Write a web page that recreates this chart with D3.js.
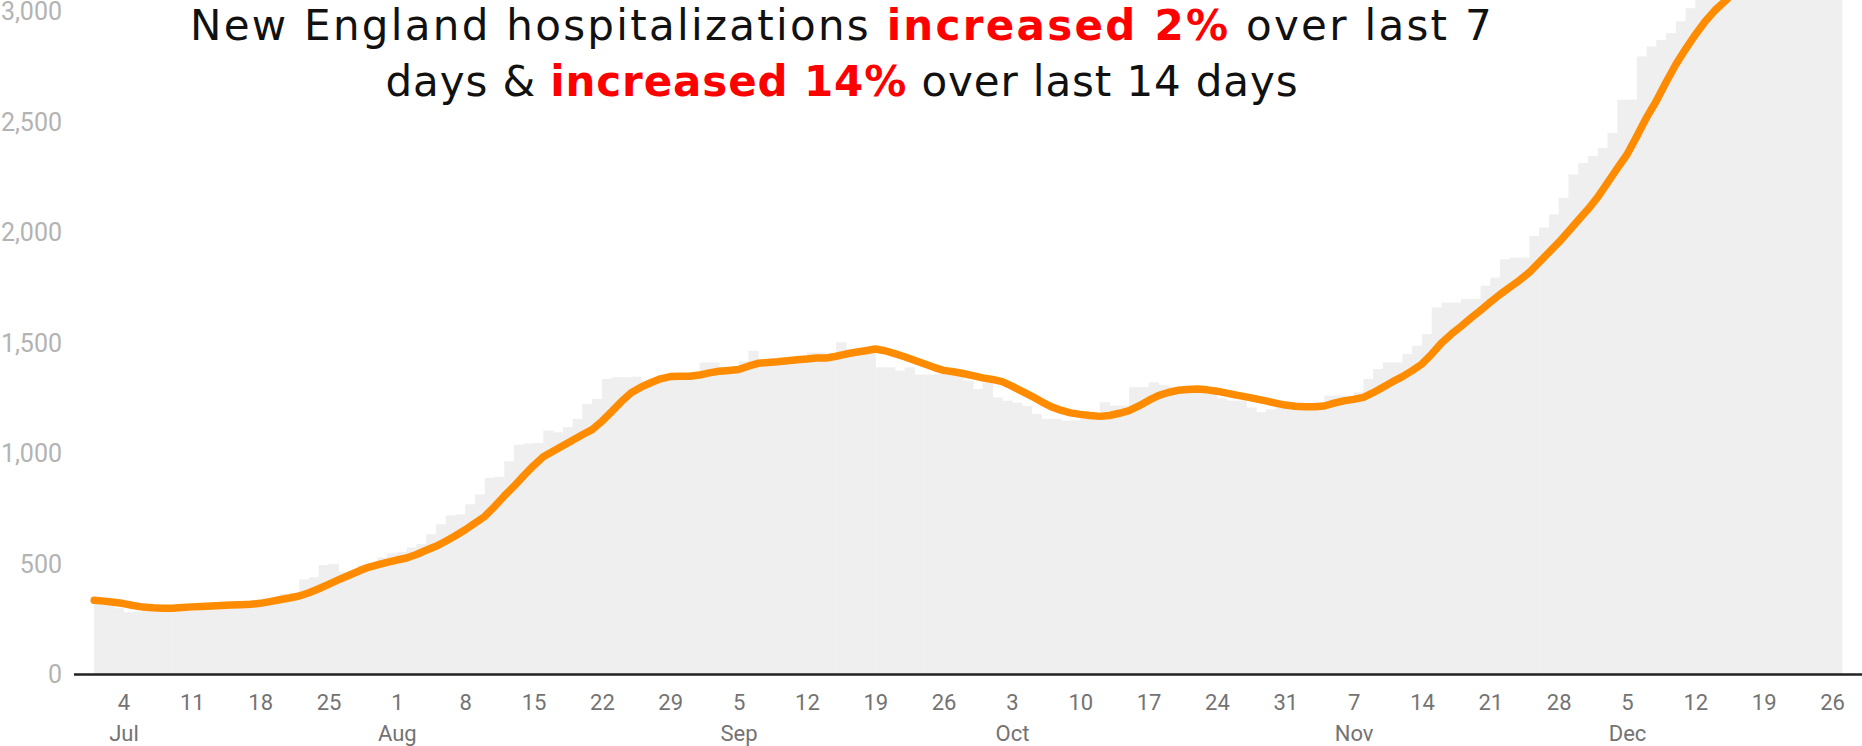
<!DOCTYPE html>
<html>
<head>
<meta charset="utf-8">
<script src="https://cdn.jsdelivr.net/npm/d3@7"></script>
<style>
  body { margin: 0; background: #fff; }
  svg { display: block; }
</style>
</head>
<body>
<svg id="chart" width="1862" height="746"></svg>
<script>
// daily data starts Jul 1 2020, one value per day up to Dec 26
var startDate = new Date(2020, 6, 1);

// total hospitalized (grey bars)
var hospitalized = [
  335, 330, 300, 282, 285, 300, 305, 305, 300, 310,
  312, 315, 318, 312, 315, 320, 322, 330, 335, 365,
  370, 430, 440, 495, 500, 465, 470, 495, 505, 530,
  548, 555, 575, 590, 635, 680, 720, 725, 770, 815,
  890, 895, 965, 1040, 1045, 1048, 1104, 1096, 1119, 1157,
  1224, 1247, 1337, 1345, 1345, 1348, 1330, 1320, 1330, 1345,
  1350, 1340, 1412, 1412, 1390, 1390, 1417, 1465, 1420, 1420,
  1410, 1420, 1440, 1457, 1457, 1440, 1503, 1470, 1460, 1470,
  1390, 1390, 1375, 1390, 1357, 1357, 1360, 1360, 1355, 1330,
  1292, 1320, 1254, 1239, 1230, 1215, 1179, 1157, 1157, 1149,
  1150, 1160, 1165, 1232, 1217, 1217, 1300, 1300, 1322, 1310,
  1300, 1290, 1290, 1280, 1270, 1250, 1239, 1239, 1209, 1187,
  1200, 1210, 1215, 1215, 1215, 1230, 1262, 1262, 1262, 1277,
  1337, 1382, 1412, 1412, 1450, 1488, 1540, 1661, 1683, 1683,
  1699, 1699, 1759, 1796, 1879, 1886, 1886, 1984, 2022, 2082,
  2157, 2263, 2315, 2346, 2383, 2451, 2601, 2601, 2797, 2842,
  2872, 2902, 2955, 3015, 3060, 3090, 3130, 3170, 3220, 3260,
  3310, 3350, 3390, 3420, 3460, 3490, 3510, 3540, 3560
];

// 7 day average (orange line)
var avg7 = [
  336, 332, 327, 321, 312, 305, 302, 300, 300, 303,
  306, 308, 310, 312, 314, 316, 318, 322, 330, 338,
  346, 355, 370, 388, 408, 428, 447, 466, 484, 496,
  507, 518, 527, 543, 562, 580, 603, 628, 655, 685,
  715, 760, 808, 852, 900, 945, 985, 1010, 1035, 1060,
  1085, 1108, 1145, 1190, 1235, 1275, 1300, 1320, 1338, 1348,
  1350, 1350, 1355, 1365, 1372, 1376, 1380, 1395, 1408, 1412,
  1415, 1420, 1424, 1428, 1432, 1432, 1440, 1450, 1458, 1465,
  1473, 1465, 1452, 1438, 1422, 1406, 1390, 1376, 1370, 1362,
  1352, 1342, 1335, 1325, 1305, 1282, 1260, 1235, 1212, 1196,
  1184, 1177, 1172, 1168, 1172, 1182, 1194, 1215, 1240, 1262,
  1276, 1286, 1290, 1292, 1288, 1282, 1273, 1264, 1256, 1247,
  1238, 1228, 1219, 1214, 1212, 1212, 1215, 1228, 1238, 1245,
  1254, 1275, 1300, 1325, 1348, 1375, 1405, 1450, 1500, 1540,
  1575, 1612, 1648, 1685, 1720, 1752, 1784, 1820, 1865, 1910,
  1955, 2005, 2055, 2105, 2160, 2225, 2290, 2353, 2435, 2520,
  2595, 2680, 2760, 2830, 2895, 2955, 3005, 3045, 3090, 3130,
  3170, 3210, 3250, 3290, 3330, 3370, 3405, 3440, 3470
];

var yTicks = [0, 500, 1000, 1500, 2000, 2500, 3000];

var tickDates = [
  "2020-07-04", "2020-07-11", "2020-07-18", "2020-07-25",
  "2020-08-01", "2020-08-08", "2020-08-15", "2020-08-22", "2020-08-29",
  "2020-09-05", "2020-09-12", "2020-09-19", "2020-09-26",
  "2020-10-03", "2020-10-10", "2020-10-17", "2020-10-24", "2020-10-31",
  "2020-11-07", "2020-11-14", "2020-11-21", "2020-11-28",
  "2020-12-05", "2020-12-12", "2020-12-19", "2020-12-26"
];
var monthNames = ["Jan","Feb","Mar","Apr","May","Jun","Jul","Aug","Sep","Oct","Nov","Dec"];

var titleLines = [
  [["New England hospitalizations ", false], ["increased 2%", true], [" over last 7", false]],
  [["days & ", false], ["increased 14%", true], [" over last 14 days", false]]
];

var parseDay = d3.timeParse("%Y-%m-%d");

var data = hospitalized.map(function(v, i) {
  return { date: d3.timeDay.offset(startDate, i), value: v, avg: avg7[i] };
});

var svg = d3.select("#chart");

var x = d3.scaleTime()
  .domain([startDate, d3.timeDay.offset(startDate, hospitalized.length)])
  .range([94.2, 1841.8]);
var y = d3.scaleLinear().domain([0, 3000]).range([674.5, 11.5]);

// bars
svg.append("g")
  .selectAll("rect")
  .data(data)
  .enter()
  .append("rect")
  .attr("x", function(d) { return x(d.date); })
  .attr("width", function(d) { return x(d3.timeDay.offset(d.date, 1)) - x(d.date) + 0.6; })
  .attr("y", function(d) { return y(d.value); })
  .attr("height", function(d) { return y(0) - y(d.value); })
  .style("fill", "#efefef");

// baseline
svg.append("line")
  .attr("x1", 74).attr("x2", 1862)
  .attr("y1", y(0)).attr("y2", y(0))
  .style("stroke", "#222")
  .style("stroke-width", 2.5);

// 7 day average line
var line = d3.line()
  .x(function(d) { return x(d.date); })
  .y(function(d) { return y(d.avg); });

svg.append("path")
  .datum(data)
  .attr("d", line)
  .style("fill", "none")
  .style("stroke", "#ff8c00")
  .style("stroke-width", 7.5)
  .style("stroke-linejoin", "round")
  .style("stroke-linecap", "round");

// y axis
var yAxis = svg.append("g")
  .attr("transform", "translate(74,0)")
  .call(d3.axisLeft(y).tickValues(yTicks).tickSize(0).tickPadding(12).tickFormat(d3.format(",")));
yAxis.select(".domain").remove();
yAxis.selectAll("text")
  .style("font-family", "Roboto")
  .style("font-size", "25px")
  .style("fill", "#b3b3b3");

// x axis, day number plus month name under first tick of each month
var ticks = tickDates.map(parseDay);
var xAxis = svg.append("g")
  .attr("transform", "translate(0," + y(0) + ")")
  .call(d3.axisBottom(x).tickValues(ticks).tickSize(0).tickFormat(""));
xAxis.select(".domain").remove();
xAxis.selectAll(".tick text").each(function(d, i) {
  var t = d3.select(this).attr("y", null).attr("dy", null);
  t.append("tspan").attr("x", 0).attr("y", 35.5).text(d.getDate());
  var prev = i > 0 ? ticks[i - 1] : null;
  if (!prev || prev.getMonth() !== d.getMonth()) {
    t.append("tspan").attr("x", 0).attr("y", 66.5).text(monthNames[d.getMonth()]);
  }
});
xAxis.selectAll("text")
  .style("font-family", "Roboto")
  .style("font-size", "22px")
  .style("fill", "#737373");

// title
var title = svg.append("g")
  .style("font-family", "'DejaVu Sans', sans-serif")
  .style("font-size", "42px");
var targetWidths = [1304, 913];
titleLines.forEach(function(parts, li) {
  var t = title.append("text")
    .attr("x", 842)
    .attr("y", li === 0 ? 40 : 96)
    .attr("text-anchor", "middle");
  parts.forEach(function(p) {
    t.append("tspan")
      .text(p[0])
      .style("font-weight", p[1] ? "bold" : "normal")
      .style("fill", p[1] ? "#ff0000" : "#111");
  });
  var w = t.node().getComputedTextLength();
  var n = parts.map(function(p) { return p[0]; }).join("").length;
  t.style("letter-spacing", ((targetWidths[li] - w) / n) + "px");
});
</script>
</body>
</html>
